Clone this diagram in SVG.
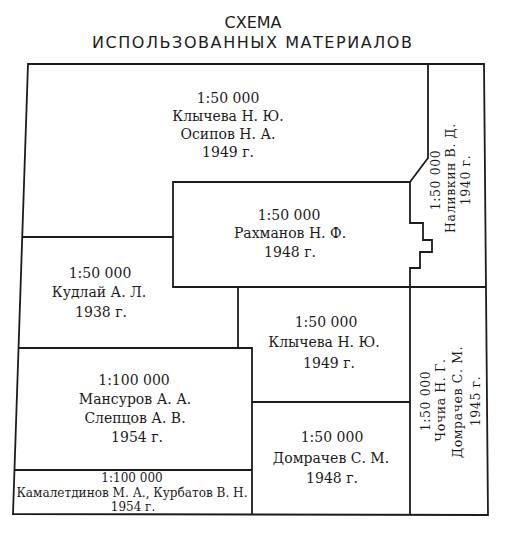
<svg xmlns="http://www.w3.org/2000/svg" width="507" height="534" viewBox="0 0 507 534">
<style>
.ln{fill:none;stroke:#1c1c1c;stroke-width:1.8;stroke-linejoin:miter}
.t{font-family:"DejaVu Serif","Liberation Serif",serif;font-size:14px;fill:#1c1c1c;text-anchor:middle}
.s{font-size:12px}
.v{font-size:12.5px;letter-spacing:0.6px}
.ttl{font-family:"DejaVu Sans","Liberation Sans",sans-serif;font-size:16px;fill:#1c1c1c;text-anchor:middle}
</style>
<rect width="507" height="534" fill="#fff"/>
<g id="title">
<text class="ttl" x="253" y="28" textLength="57" lengthAdjust="spacing">СХЕМА</text>
<text class="ttl" x="252" y="48" textLength="320" lengthAdjust="spacing">ИСПОЛЬЗОВАННЫХ МАТЕРИАЛОВ</text>
</g>
<g id="connectors">
<polygon class="ln" points="28,64 484,64 488,515 13,514"/>
<path class="ln" d="M428,64 V158 L410,182 V223 H423 V240 H432 V252 H420 V268 H410 V515"/>
<path class="ln" d="M410,182 H173 V287 H486"/>
<path class="ln" d="M22.3,237 H173"/>
<path class="ln" d="M238,287 V348"/>
<path class="ln" d="M18.5,348 H252 V514.5"/>
<path class="ln" d="M14.5,470 H252"/>
<path class="ln" d="M252,402 H410"/>
</g>
<g id="klycheva-osipov">
<text class="t" x="228" y="103">1:50 000</text>
<text class="t" x="228" y="121">Клычева Н. Ю.</text>
<text class="t" x="228" y="139">Осипов Н. А.</text>
<text class="t" x="228" y="157">1949 г.</text>
</g>
<g id="rakhmanov">
<text class="t" x="289" y="220">1:50 000</text>
<text class="t" x="290" y="238">Рахманов Н. Ф.</text>
<text class="t" x="290" y="257">1948 г.</text>
</g>
<g id="kudlai">
<text class="t" x="100" y="278">1:50 000</text>
<text class="t" x="99" y="297">Кудлай А. Л.</text>
<text class="t" x="101" y="317">1938 г.</text>
</g>
<g id="klycheva">
<text class="t" x="326" y="327">1:50 000</text>
<text class="t" x="324" y="347">Клычева Н. Ю.</text>
<text class="t" x="329" y="368">1949 г.</text>
</g>
<g id="mansurov-sleptsov">
<text class="t" x="134" y="385">1:100 000</text>
<text class="t" x="135" y="404">Мансуров А. А.</text>
<text class="t" x="135" y="423">Слепцов А. В.</text>
<text class="t" x="137" y="442">1954 г.</text>
</g>
<g id="kamaletdinov-kurbatov">
<text class="t s" x="132" y="482">1:100 000</text>
<text class="t s" x="132" y="496.5" textLength="231" lengthAdjust="spacingAndGlyphs">Камалетдинов М. А., Курбатов В. Н.</text>
<text class="t s" x="133" y="511">1954 г.</text>
</g>
<g id="domrachev">
<text class="t" x="332" y="442">1:50 000</text>
<text class="t" x="331" y="463">Домрачев С. М.</text>
<text class="t" x="332" y="483">1948 г.</text>
</g>
<g id="nalivkin">
<text class="t v" transform="translate(440,180) rotate(-90)">1:50 000</text>
<text class="t v" transform="translate(455,178) rotate(-90)">Наливкин В. Д.</text>
<text class="t v" transform="translate(470,180) rotate(-90)">1940 г.</text>
</g>
<g id="chochia-domrachev">
<text class="t v" transform="translate(430,401) rotate(-90)">1:50 000</text>
<text class="t v" transform="translate(445,400) rotate(-90)">Чочиа Н. Г.</text>
<text class="t v" transform="translate(462,402) rotate(-90)">Домрачев С. М.</text>
<text class="t v" transform="translate(480,401) rotate(-90)">1945 г.</text>
</g>
</svg>
